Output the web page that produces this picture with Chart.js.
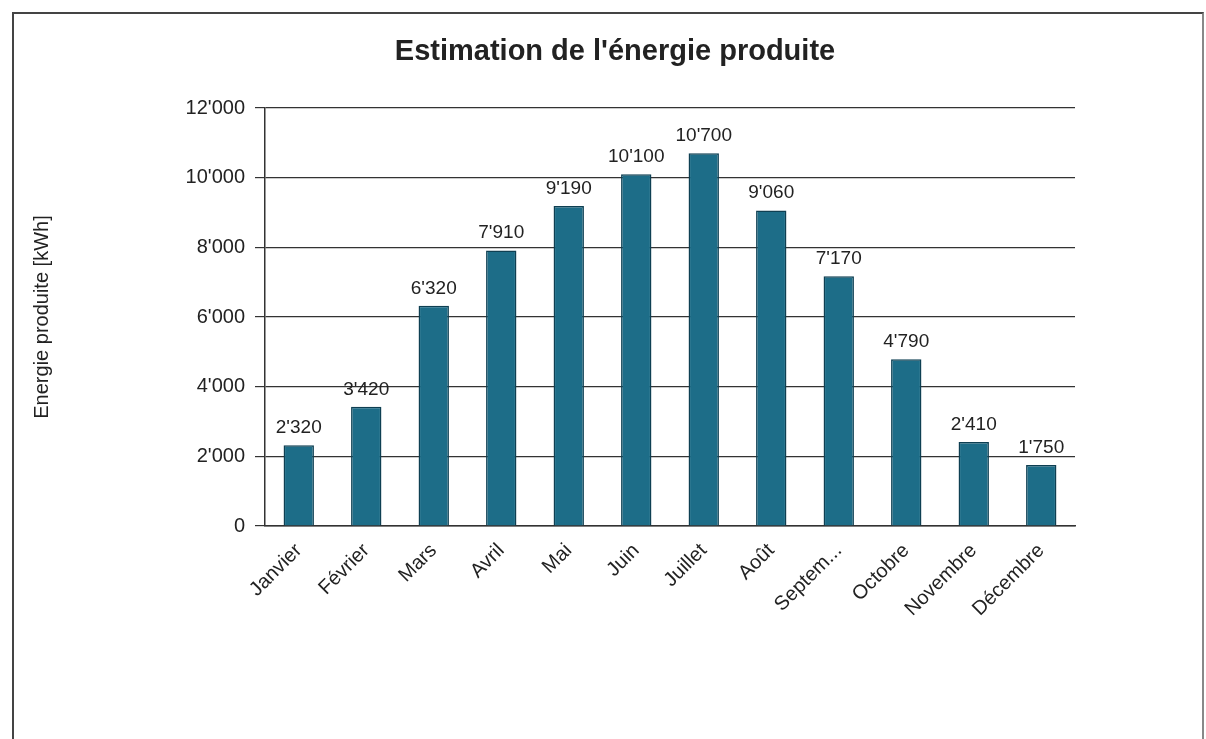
<!DOCTYPE html>
<html lang="fr">
<head>
<meta charset="utf-8">
<title>Estimation de l'énergie produite</title>
<script src="https://cdn.jsdelivr.net/npm/chart.js@4.4.1/dist/chart.umd.min.js"></script>
<style>
    html, body { margin: 0; padding: 0; background: #fff; }
    #frame {
        position: absolute; left: 12px; top: 12px; width: 1192px; height: 740px;
        border-left: 2px solid #444; border-top: 2px solid #444; border-right: 2px solid #888;
        box-sizing: border-box;
    }
    #wrap { position: absolute; left: 0; top: 0; width: 1188px; height: 725px; }
</style>
</head>
<body>
<div id="frame"><div id="wrap"><canvas id="chartEnergie"></canvas></div></div>
<script>
// Données
const mois = ["Janvier", "Février", "Mars", "Avril", "Mai", "Juin", "Juillet", "Août", "Septem...", "Octobre", "Novembre", "Décembre"];
const energie = [2320, 3420, 6320, 7910, 9190, 10100, 10700, 9060, 7170, 4790, 2410, 1750];
const yTicks = [0, 2000, 4000, 6000, 8000, 10000, 12000];
const titre = "Estimation de l'énergie produite";

const FONT = "'Liberation Sans', Arial, sans-serif";

function formatNombre(v) {
    return String(v).replace(/\B(?=(\d{3})+(?!\d))/g, "'");
}

// titre centré sur toute la largeur + étiquettes au-dessus des colonnes
const textesPlugin = {
    id: "textes",
    afterDraw(chart) {
        const ctx = chart.ctx;
        ctx.save();
        ctx.fillStyle = "#222";
        ctx.font = "bold 29px " + FONT;
        ctx.textAlign = "center";
        ctx.textBaseline = "middle";
        ctx.fillText(titre, 601, 38);

        ctx.font = "19px " + FONT;
        ctx.textBaseline = "bottom";
        chart.getDatasetMeta(0).data.forEach((bar, i) => {
            ctx.fillText(formatNombre(energie[i]), bar.x, bar.y - 8);
        });
        ctx.restore();
    }
};

document.addEventListener("DOMContentLoaded", function() {
    const ctx = document.getElementById("chartEnergie");
    new Chart(ctx, {
        type: "bar",
        data: {
            labels: mois,
            datasets: [{
                label: "Energie produite",
                data: energie,
                backgroundColor: "#1d6d88",
                borderColor: "#0e3f52",
                borderWidth: 1.5,
                barPercentage: 0.45,
                categoryPercentage: 1
            }]
        },
        options: {
            responsive: true,
            maintainAspectRatio: false,
            animation: false,
            layout: { padding: { left: 0, right: 127, top: 94, bottom: 0 } },
            plugins: {
                legend: { display: false },
                tooltip: { enabled: false },
                title: { display: false }
            },
            scales: {
                y: {
                    min: 0,
                    max: 12000,
                    afterBuildTicks: axis => { axis.ticks = yTicks.map(v => ({ value: v })); },
                    afterFit: axis => { axis.width = 251; },
                    ticks: {
                        color: "#222",
                        padding: 10,
                        font: { family: FONT, size: 20 },
                        callback: v => formatNombre(v)
                    },
                    grid: { color: "#333", lineWidth: 1.2, tickLength: 10 },
                    border: { color: "#333", width: 1.5 },
                    title: {
                        display: true,
                        text: "Energie produite [kWh]",
                        color: "#222",
                        font: { family: FONT, size: 20 },
                        padding: { top: 16, bottom: 0 }
                    }
                },
                x: {
                    afterFit: axis => { axis.height = 213; },
                    ticks: {
                        color: "#222",
                        minRotation: 45,
                        maxRotation: 45,
                        autoSkip: false,
                        font: { family: FONT, size: 20 }
                    },
                    grid: { display: false, tickLength: 10 },
                    border: { color: "#333", width: 1.5 }
                }
            }
        },
        plugins: [textesPlugin]
    });
});
</script>
</body>
</html>
